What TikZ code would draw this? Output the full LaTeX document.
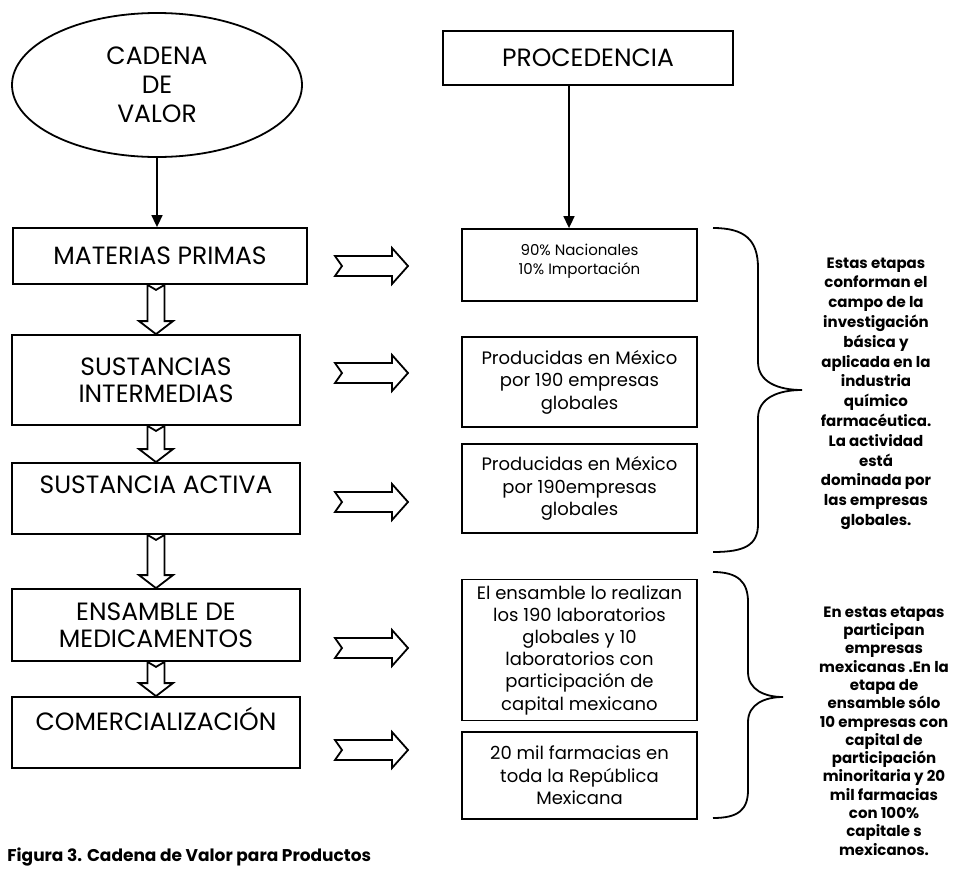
\documentclass[tikz,border=0pt]{standalone}
\usepackage{fontspec}
\setmainfont{Poppins}
\usepackage{tikz}
\usetikzlibrary{positioning,shapes.geometric,arrows.meta}

% hollow block arrow from one stage down to the next
\newcommand{\hollowdown}[2]{%
    \coordinate (t) at (#1.south -| #2.north);
    \draw[hol] ([xshift=-4.25pt]t) -- ([yshift=-2.5pt]t) -- ([xshift=4.25pt]t)
        -- ([xshift=4.25pt,yshift=6.5pt]#2.north) -- ([xshift=8.5pt,yshift=6.5pt]#2.north)
        -- (#2.north) -- ([xshift=-8.5pt,yshift=6.5pt]#2.north)
        -- ([xshift=-4.25pt,yshift=6.5pt]#2.north) -- cycle;
}

\begin{document}
\begin{tikzpicture}[
            x=0.5pt, y=-0.5pt,
            box/.style={draw, line width=0.9pt, rectangle, inner sep=0pt, align=center},
            stage/.style={box, minimum width=144pt, font=\fontsize{12.5}{13.5}\selectfont},
            origin/.style={box, minimum width=117.5pt, font=\fontsize{9}{11.25}\selectfont},
            note/.style={align=center, inner sep=0pt},
            hol/.style={draw, line width=0.9pt, line join=miter},
            arr/.style={-{Triangle[length=6pt,width=5.5pt]}, line width=0.8pt},
            brace/.style={line width=0.9pt},
            rarrow/.pic={
                \draw[hol] (-36.5,-10) -- (20.5,-10) -- (20.5,-18) -- (36.5,0)
                    -- (20.5,18) -- (20.5,10) -- (-36.5,10) -- (-29.5,0) -- cycle;
            }
        ]
            \useasboundingbox (0,0) rectangle (953,868);
            \clip (0,0) rectangle (953,868);

            % Headers
            \node[ellipse, draw, line width=0.9pt, minimum width=145pt, minimum height=72pt,
                inner sep=0pt, align=center, font=\fontsize{12.5}{14.5}\selectfont] (cv) at (157,85) {CADENA\\DE\\VALOR};
            \node[box, minimum width=145pt, minimum height=27pt, font=\fontsize{12.5}{13.5}\selectfont] (proc) at (588,58) {PROCEDENCIA};

            % Value chain
            \node[stage, minimum width=147pt, minimum height=28pt] (c1) at (160,256) {MATERIAS PRIMAS};
            \node[stage, minimum height=45pt] (c2) at (156,380) {SUSTANCIAS\\INTERMEDIAS};
            \node[stage, minimum height=35.5pt] (c3) at (156,498.5) {SUSTANCIA ACTIVA\\~};
            \node[stage, minimum height=36pt] (c4) at (156,625) {ENSAMBLE DE\\MEDICAMENTOS};
            \node[stage, minimum height=35.5pt] (c5) at (156,732.5) {COMERCIALIZACIÓN\\~};

            % Procedencia
            \node[origin, minimum height=36pt, font=\fontsize{7.5}{9.5}\selectfont] (p1) at (579.5,265) {90\% Nacionales\\10\% Importación\\[-4pt]~};
            \node[origin, minimum height=45pt] (p2) at (579.5,382) {Producidas en México\\por 190 empresas\\globales};
            \node[origin, minimum height=44.5pt] (p3) at (579.5,488.5) {Producidas en México\\por 190empresas\\globales};
            \node[origin, minimum height=70.5pt, font=\fontsize{9}{11.1}\selectfont] (p4) at (579.5,650) {El ensamble lo realizan\\los 190 laboratorios\\globales y 10\\laboratorios con\\participación de\\capital mexicano};
            \node[origin, minimum height=43.5pt] (p5) at (579.5,775.5) {20 mil farmacias en\\toda la República\\Mexicana};

            % Notes
            \node[note, font=\fontsize{7.5}{9.9}\selectfont\bfseries] (n1) at (876,393.5) {Estas etapas\\conforman el\\campo de la\\investigación\\básica y\\aplicada en la\\industria\\químico\\farmacéutica.\\La actividad\\está\\dominada por\\las empresas\\globales.};
            \node[note, font=\fontsize{7.5}{9.15}\selectfont\bfseries] (n2) at (884,731) {En estas etapas\\participan\\empresas\\mexicanas .En la\\etapa de\\ensamble sólo\\10 empresas con\\capital de\\participación\\minoritaria y 20\\mil farmacias\\con 100\%\\capitale s\\mexicanos.};

            % Caption
            \node[anchor=base west, inner sep=0pt, font=\fontsize{8.5}{10}\selectfont\bfseries] (cap) at (7,861) {Figura 3. Cadena de Valor para Productos};

            % Edges
            \draw[arr] (cv.south) -- (cv.south |- c1.north);
            \draw[arr] ([xshift=-5.25pt]p1.north |- proc.south) -- ([xshift=-5.25pt]p1.north);
            \hollowdown{c1}{c2}
            \hollowdown{c2}{c3}
            \hollowdown{c3}{c4}
            \hollowdown{c4}{c5}
            \pic at (371.5,266) {rarrow};
            \pic at (371.5,373) {rarrow};
            \pic at (371.5,502) {rarrow};
            \pic at (371.5,648) {rarrow};
            \pic at (371.5,750) {rarrow};

            % Braces
            \draw[brace] (713,228) .. controls (745,228) and (758,240) .. (758,268) -- (758,362)
                .. controls (758,382) and (778,390) .. (802,390)
                .. controls (778,390) and (758,398) .. (758,418) -- (758,524)
                .. controls (758,545) and (745,552) .. (713,552);
            \draw[brace] (713,572) .. controls (738,572) and (748,582) .. (748,602) -- (748,672)
                .. controls (748,690) and (765,697) .. (783,697)
                .. controls (765,697) and (748,704) .. (748,722) -- (748,790)
                .. controls (748,810) and (738,818) .. (713,818);
        \end{tikzpicture}
\end{document}
